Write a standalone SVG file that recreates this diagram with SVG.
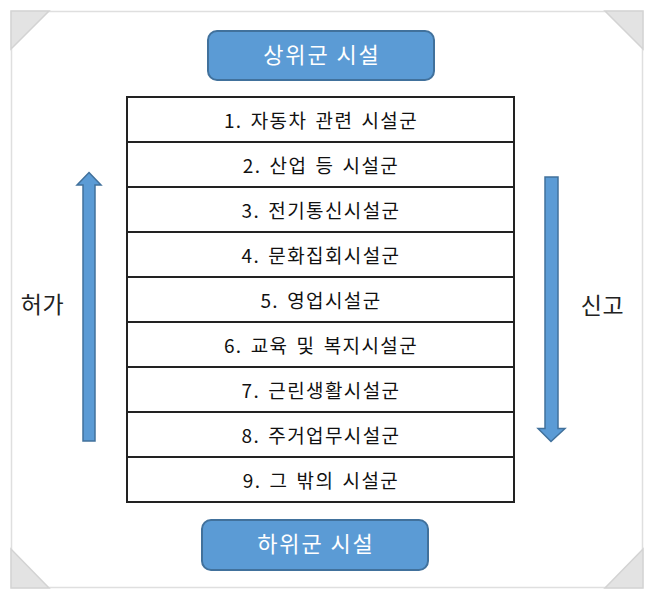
<svg xmlns="http://www.w3.org/2000/svg" width="654" height="599" viewBox="0 0 654 599">
<style>
.fold{fill:#e3e3e3;stroke:#d3d3d3;stroke-width:1.5}
.box{fill:#5b9bd5;stroke:#41719c;stroke-width:2}
.arrow{fill:#5b9bd5;stroke:#41719c;stroke-width:1.5}
.row{fill:#fff;stroke:#222;stroke-width:2}
text{font-family:"Noto Sans CJK KR","Liberation Sans",sans-serif;text-anchor:middle}
.t{font-size:19px;fill:#111;letter-spacing:1.4px;word-spacing:2.5px}
.w{font-size:22px;fill:#fff;letter-spacing:1.9px}
.s{font-size:23px;fill:#222;letter-spacing:0.6px}
</style>
<rect width="654" height="599" fill="#fff"/>
<rect x="11.500" y="11.500" width="631" height="576" fill="#fff" stroke="#dfdfdf" stroke-width="1.500"/>
<path class="fold" d="M11 11H49L11 49Z"/>
<path class="fold" d="M643 11H605L643 49Z"/>
<path class="fold" d="M11 588H49L11 549Z"/>
<path class="fold" d="M643 588H605L643 549Z"/>
<g id="upper"><rect class="box" x="208" y="31" width="226" height="49" rx="9"/><text class="w" x="322" y="63">상위군 시설</text></g>
<g id="lower"><rect class="box" x="202" y="520" width="226" height="50" rx="9"/><text class="w" x="316" y="552">하위군 시설</text></g>
<g id="r1"><rect class="row" x="127" y="97" width="387" height="45"/><text class="t" x="321" y="128">1. 자동차 관련 시설군</text></g>
<g id="r2"><rect class="row" x="127" y="142" width="387" height="45"/><text class="t" x="321" y="173">2. 산업 등 시설군</text></g>
<g id="r3"><rect class="row" x="127" y="187" width="387" height="45"/><text class="t" x="321" y="218">3. 전기통신시설군</text></g>
<g id="r4"><rect class="row" x="127" y="232" width="387" height="45"/><text class="t" x="321" y="263">4. 문화집회시설군</text></g>
<g id="r5"><rect class="row" x="127" y="277" width="387" height="45"/><text class="t" x="321" y="308">5. 영업시설군</text></g>
<g id="r6"><rect class="row" x="127" y="322" width="387" height="45"/><text class="t" x="321" y="353">6. 교육 및 복지시설군</text></g>
<g id="r7"><rect class="row" x="127" y="367" width="387" height="45"/><text class="t" x="321" y="398">7. 근린생활시설군</text></g>
<g id="r8"><rect class="row" x="127" y="412" width="387" height="45"/><text class="t" x="321" y="443">8. 주거업무시설군</text></g>
<g id="r9"><rect class="row" x="127" y="457" width="387" height="45"/><text class="t" x="321" y="488">9. 그 밖의 시설군</text></g>
<g id="connectors">
<path class="arrow" d="M89 172.500L101 185H95V441H83V185H77Z"/>
<path class="arrow" d="M551 441.500L538 428.500H545V177H558V428.500H565Z"/>
</g>
<g id="permit"><text class="s" x="42.500" y="313">허가</text></g>
<g id="report"><text class="s" x="602.500" y="314">신고</text></g>
</svg>
